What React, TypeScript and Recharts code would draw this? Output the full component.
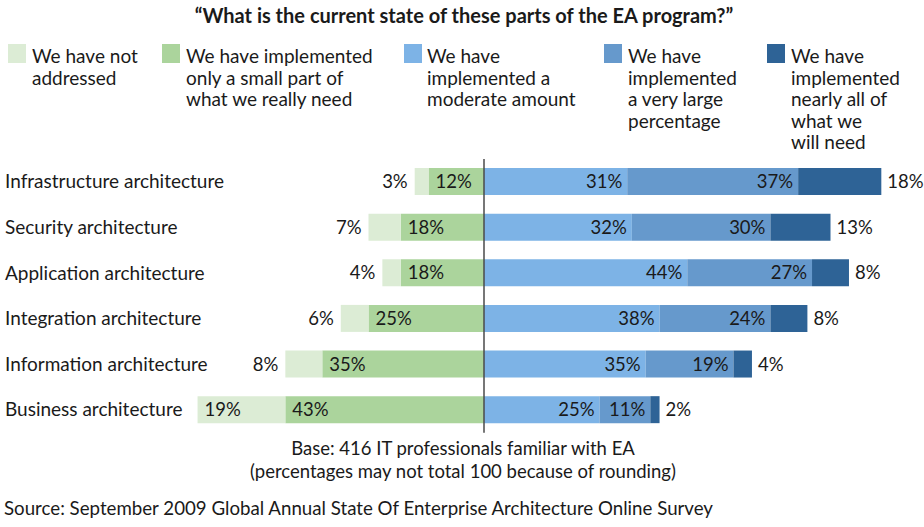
import React from "react";
import { BarChart, Bar, XAxis, YAxis, ReferenceLine, LabelList } from "recharts";

const categories = [
  "Infrastructure architecture",
  "Security architecture",
  "Application architecture",
  "Integration architecture",
  "Information architecture",
  "Business architecture",
];
const notAddressed = [3, 7, 4, 6, 8, 19];
const smallPart = [12, 18, 18, 25, 35, 43];
const moderate = [31, 32, 44, 38, 35, 25];
const veryLarge = [37, 30, 27, 24, 19, 11];
const nearlyAll = [18, 13, 8, 8, 4, 2];

const legendLabels = [
  ["We have not", "addressed"],
  ["We have implemented", "only a small part of", "what we really need"],
  ["We have", "implemented a", "moderate amount"],
  ["We have", "implemented", "a very large", "percentage"],
  ["We have", "implemented", "nearly all of", "what we", "will need"],
];
const title = "\u201CWhat is the current state of these parts of the EA program?\u201D";
const baseNote = "Base: 416 IT professionals familiar with EA";
const roundNote = "(percentages may not total 100 because of rounding)";
const sourceNote = "Source: September 2009 Global Annual State Of Enterprise Architecture Online Survey";

const COLORS = ["#dcecd5", "#abd49c", "#7db3e6", "#6699cc", "#2e6396"];
const FONT = "Lato, 'Open Sans', sans-serif";
const TEXT = "#1a1a1a";

const data = categories.map((name, i) => ({
  name,
  notAddressed: -notAddressed[i],
  smallPart: -smallPart[i],
  moderate: moderate[i],
  veryLarge: veryLarge[i],
  nearlyAll: nearlyAll[i],
}));

type Mode = "leftInside" | "leftAuto" | "rightInside" | "rightOutside";

const makeLabel = (mode: Mode) => (props: any) => {
  const { x, y, width, height, value } = props;
  const x0 = Math.min(Number(x), Number(x) + Number(width));
  const x1 = Math.max(Number(x), Number(x) + Number(width));
  const v = Math.abs(Number(value));
  const cy = Number(y) + Number(height) / 2 + 6.5;
  let tx = x0 + 7;
  let anchor: "start" | "end" = "start";
  if (mode === "leftAuto" && v < 10) {
    tx = x0 - 7;
    anchor = "end";
  } else if (mode === "rightInside") {
    tx = x1 - 5;
    anchor = "end";
  } else if (mode === "rightOutside") {
    tx = x1 + 6;
    anchor = "start";
  }
  return (
    <text x={tx} y={cy} textAnchor={anchor} fontSize={18.5} fill={TEXT} fontFamily={FONT}>
      {`${v}%`}
    </text>
  );
};

const CategoryTick = (props: any) => {
  const { y, payload } = props;
  return (
    <text x={5} y={Number(y) + 6.5} textAnchor="start" fontSize={19} fill={TEXT} fontFamily={FONT}>
      {payload.value}
    </text>
  );
};

const legendSwatchX = [8, 162, 404, 604, 767];
const legendTextX = [32, 186, 427, 628, 791];

export default function App() {
  return (
    <div style={{ position: "absolute", left: 0, top: 0, width: 924, height: 527, background: "#fff" }}>
      <BarChart
        width={924}
        height={527}
        data={data}
        layout="vertical"
        stackOffset="sign"
        barSize={27}
        margin={{ top: 159, right: 24.2, bottom: 94.2, left: 0 }}
      >
        <XAxis type="number" domain={[-70, 90]} hide allowDataOverflow />
        <YAxis
          type="category"
          dataKey="name"
          width={160.6}
          axisLine={false}
          tickLine={false}
          tick={<CategoryTick />}
          interval={0}
        />
        <Bar dataKey="smallPart" stackId="a" fill={COLORS[1]} isAnimationActive={false}>
          <LabelList dataKey="smallPart" content={makeLabel("leftInside")} />
        </Bar>
        <Bar dataKey="notAddressed" stackId="a" fill={COLORS[0]} isAnimationActive={false}>
          <LabelList dataKey="notAddressed" content={makeLabel("leftAuto")} />
        </Bar>
        <Bar dataKey="moderate" stackId="a" fill={COLORS[2]} isAnimationActive={false}>
          <LabelList dataKey="moderate" content={makeLabel("rightInside")} />
        </Bar>
        <Bar dataKey="veryLarge" stackId="a" fill={COLORS[3]} isAnimationActive={false}>
          <LabelList dataKey="veryLarge" content={makeLabel("rightInside")} />
        </Bar>
        <Bar dataKey="nearlyAll" stackId="a" fill={COLORS[4]} isAnimationActive={false}>
          <LabelList dataKey="nearlyAll" content={makeLabel("rightOutside")} />
        </Bar>
        <ReferenceLine x={0} stroke="#4a4a4a" strokeWidth={1.5} ifOverflow="extendDomain" />
      </BarChart>
      <svg
        width={924}
        height={527}
        style={{ position: "absolute", left: 0, top: 0, pointerEvents: "none" }}
        fontFamily={FONT}
      >
        <text x={464} y={23} textAnchor="middle" fontSize={20} fontWeight={700} fill={TEXT}>
          {title}
        </text>
        {legendLabels.map((lines, i) => (
          <g key={i}>
            <rect x={legendSwatchX[i]} y={44} width={18} height={19} fill={COLORS[i]} />
            {lines.map((ln, j) => (
              <text key={j} x={legendTextX[i]} y={63 + j * 21.5} fontSize={19} fill={TEXT}>
                {ln}
              </text>
            ))}
          </g>
        ))}
        <text x={463} y={455} textAnchor="middle" fontSize={18.5} fill={TEXT}>
          {baseNote}
        </text>
        <text x={463} y={478} textAnchor="middle" fontSize={18.5} fill={TEXT}>
          {roundNote}
        </text>
        <text x={4} y={515} textAnchor="start" fontSize={18.7} fill={TEXT}>
          {sourceNote}
        </text>
      </svg>
    </div>
  );
}
